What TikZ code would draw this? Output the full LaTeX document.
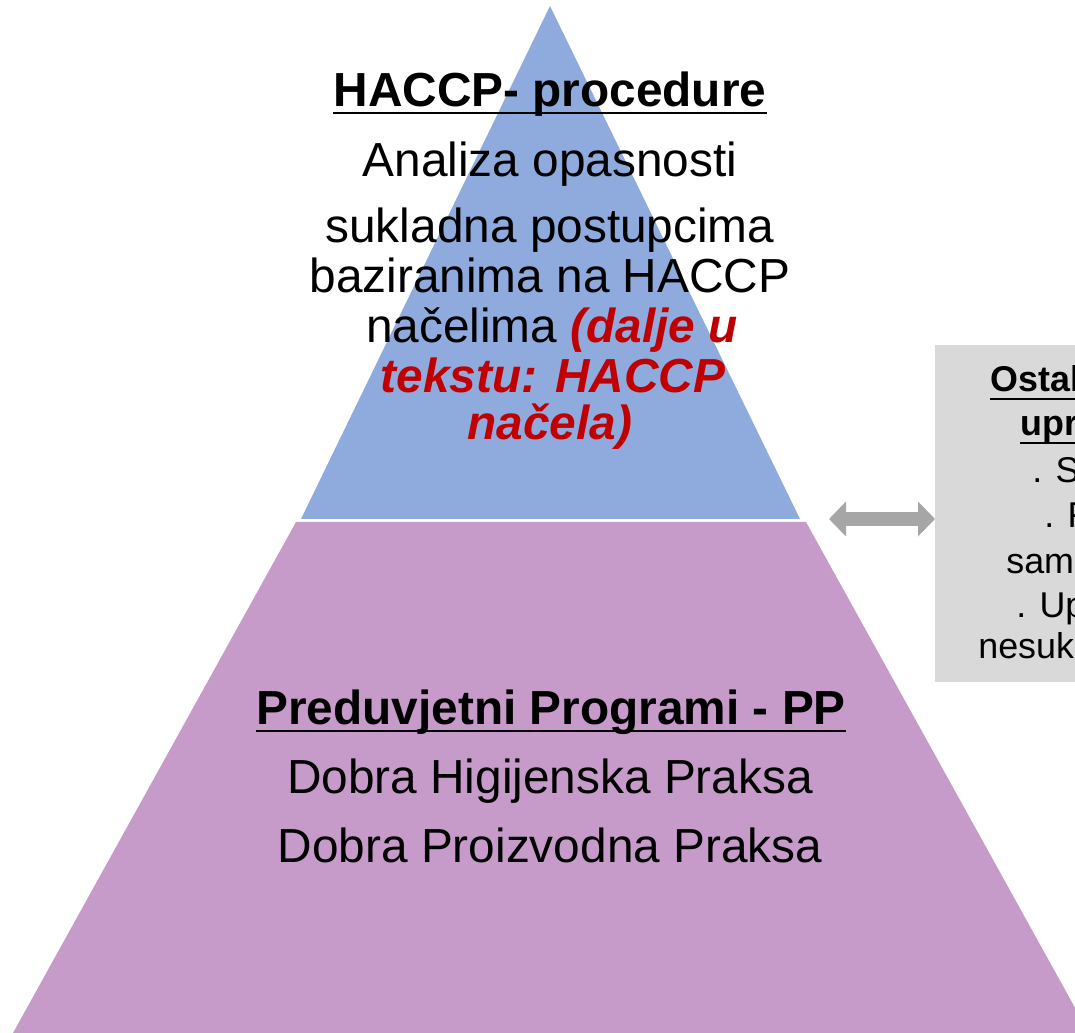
\documentclass[tikz,border=0pt]{standalone}
\usepackage{fontspec}
\setmainfont{Liberation Sans}
\usepackage{xcolor}
\usepackage{tikz}
\usetikzlibrary{calc}
\usetikzlibrary{arrows.meta}

\definecolor{hacblue}{HTML}{8FAADC}
\definecolor{pppurple}{HTML}{C69BCA}
\definecolor{boxgray}{HTML}{D9D9D9}
\definecolor{arrgray}{HTML}{A6A6A6}
\definecolor{hacred}{HTML}{C00000}

\newcommand{\redit}[1]{\textcolor{hacred}{\bfseries\itshape #1}}

\tikzset{
  txt/.style={inner sep=0pt, anchor=base, font=\fontsize{27.2}{30}\selectfont},
  hd/.style={txt, font=\fontsize{27.2}{30}\selectfont\bfseries},
  boxtxt/.style={inner sep=0pt, anchor=base west, font=\fontsize{20.4}{24}\selectfont},
  boxhd/.style={boxtxt, font=\fontsize{20.4}{24}\selectfont\bfseries},
  uline/.style={line width=1.7pt},
  boxuline/.style={line width=1.5pt},
  dblarrow/.style={draw=arrgray, line width=0.28cm,
    {Triangle[width=0.68cm,length=0.34cm]}-{Triangle[width=0.68cm,length=0.34cm]}}
}

\begin{document}
\begin{tikzpicture}[x=0.02cm,y=-0.02cm]
        \useasboundingbox (0,0) rectangle (1075,1033);
        \clip (0,0) rectangle (1075,1033);
        % pyramid
        \fill[hacblue] (550,6) -- (800,519) -- (301,519) -- cycle;
        \fill[pppurple] (296,522) -- (806,522) -- (1089,1033) -- (13,1033) -- cycle;
        % side box
        \node[fill=boxgray, inner sep=0pt, minimum width=3.4cm, minimum height=6.74cm, anchor=north west] (sysbox) at (935,345) {};
        \coordinate (tipL) at (829,519);
        \draw[dblarrow] (tipL) -- (tipL -| sysbox.west);
        % top level
        \node[hd] (haccp) at (550,107) {HACCP- procedure};
        \draw[uline] ($(haccp.base west)+(0,6)$) -- ($(haccp.base east)+(0,6)$);
        \node[txt] (analiza) at (550,177) {Analiza opasnosti};
        \node[txt] (sukl) at (550,243) {sukladna postupcima};
        \node[txt] (bazir) at (550,293) {baziranima na HACCP};
        \node[txt] (nacel) at (552,343) {načelima \redit{(dalje u}};
        \node[txt] (tekstu) at (553,393) {\redit{tekstu: HACCP}};
        \node[txt] (nacela) at (550,440) {\redit{načela)}};
        % bottom level
        \node[hd] (pp) at (551,724) {Preduvjetni Programi - PP};
        \draw[uline] ($(pp.base west)+(0,7)$) -- ($(pp.base east)+(0,7)$);
        \node[txt] (dhp) at (550,793) {Dobra Higijenska Praksa};
        \node[txt] (dpp) at (550,862) {Dobra Proizvodna Praksa};
        % box text
        \node[boxhd] (ostal) at (990,392) {Ostal};
        \draw[boxuline] ($(ostal.base west)+(0,7)$) -- ++(100,0);
        \node[boxhd] (upr) at (1020,436) {upr};
        \draw[boxuline] ($(upr.base west)+(0,7)$) -- ++(100,0);
        \node[boxtxt] (s1) at (1032,483) {. S};
        \node[boxtxt] (f1) at (1044,528) {. F};
        \node[boxtxt] (sam) at (1006,573) {sam};
        \node[boxtxt] (up1) at (1016,617) {. Up};
        \node[boxtxt] (nesuk) at (978,658) {nesuk};
    \end{tikzpicture}
\end{document}
